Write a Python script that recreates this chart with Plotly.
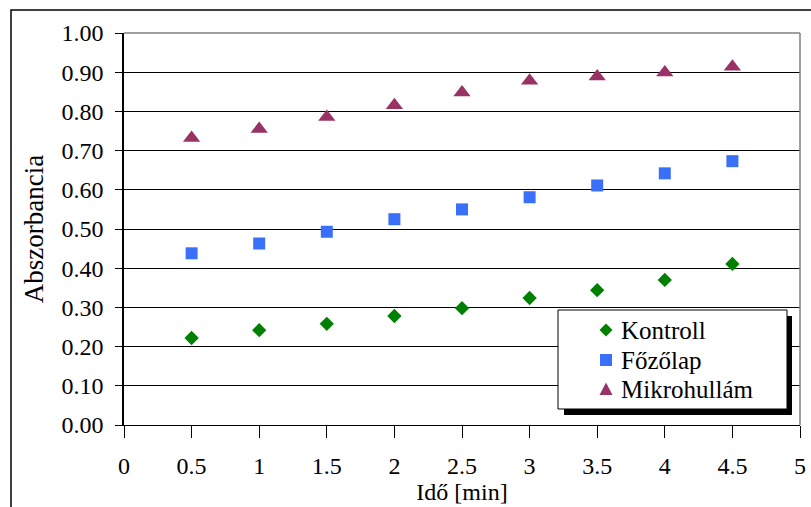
import plotly.graph_objects as go

# Measurement times (min)
ido = [0.5, 1.0, 1.5, 2.0, 2.5, 3.0, 3.5, 4.0, 4.5]

# Absorbance readings per heating method
kontroll = [0.222, 0.242, 0.258, 0.278, 0.298, 0.324, 0.344, 0.370, 0.411]
fozolap = [0.438, 0.463, 0.493, 0.525, 0.550, 0.581, 0.611, 0.642, 0.673]
mikrohullam = [0.732, 0.755, 0.786, 0.816, 0.848, 0.878, 0.889, 0.899, 0.914]

series_names = ["Kontroll", "Főzőlap", "Mikrohullám"]
series_values = [kontroll, fozolap, mikrohullam]

x_ticks = [0, 0.5, 1, 1.5, 2, 2.5, 3, 3.5, 4, 4.5, 5]
x_ticktext = ["0", "0.5", "1", "1.5", "2", "2.5", "3", "3.5", "4", "4.5", "5"]
y_ticks = [0.0, 0.1, 0.2, 0.3, 0.4, 0.5, 0.6, 0.7, 0.8, 0.9, 1.0]

FONT = "Liberation Serif"

# marker styles: plotly symbol, size, colour, and legend-key path (pixels, y up)
styles = [
    ("diamond", 11, "#008000", "M0,6.5 L6.5,0 L0,-6.5 L-6.5,0 Z"),
    ("square", 12, "#3A6FF7", "M-6,-6 L6,-6 L6,6 L-6,6 Z"),
    ("triangle-up", 15, "#993366", "M-6.5,-6 L6.5,-6 L0,6.5 Z"),
]

W, H = 811, 507
L, R, T, B = 124, 11, 33, 82
pw, ph = W - L - R, H - T - B


def px_x(px):
    return (px - L) / pw


def px_y(py):
    return (H - B - py) / ph


fig = go.Figure()
for name, vals, (sym, size, color, _) in zip(series_names, series_values, styles):
    fig.add_trace(go.Scatter(
        x=ido, y=vals, mode="markers", name=name, showlegend=False,
        marker=dict(symbol=sym, size=size, color=color, line=dict(width=0)),
    ))

shapes = [
    # outer chart frame
    dict(type="rect", xref="paper", yref="paper",
         x0=px_x(11), y0=px_y(530), x1=px_x(830), y1=px_y(10),
         line=dict(color="black", width=1.5), fillcolor="rgba(0,0,0,0)", layer="below"),
    # plot area border (top / right)
    dict(type="line", xref="paper", yref="paper", x0=0, x1=1, y0=1, y1=1,
         line=dict(color="#808080", width=1.5), layer="above"),
    dict(type="line", xref="paper", yref="paper", x0=1, x1=1, y0=0, y1=1,
         line=dict(color="#808080", width=1.5), layer="above"),
    # legend drop shadow and box
    dict(type="rect", xref="paper", yref="paper",
         x0=px_x(564), y0=px_y(415), x1=px_x(792), y1=px_y(316),
         line=dict(width=0), fillcolor="black", layer="above"),
    dict(type="rect", xref="paper", yref="paper",
         x0=px_x(558), y0=px_y(409), x1=px_x(787), y1=px_y(310),
         line=dict(color="black", width=1), fillcolor="white", layer="above"),
]

annotations = []
legend_rows = [330, 360, 389]
for name, (sym, size, color, path), row in zip(series_names, styles, legend_rows):
    shapes.append(dict(
        type="path", xref="paper", yref="paper",
        xsizemode="pixel", ysizemode="pixel",
        xanchor=px_x(606), yanchor=px_y(row),
        path=path, fillcolor=color, line=dict(width=0), layer="above",
    ))
    annotations.append(dict(
        xref="paper", yref="paper", x=px_x(619), y=px_y(row),
        xanchor="left", yanchor="middle", showarrow=False,
        text=name, font=dict(family=FONT, size=25, color="black"),
    ))

fig.update_layout(
    width=W, height=H,
    margin=dict(l=L, r=R, t=T, b=B, autoexpand=False),
    paper_bgcolor="white", plot_bgcolor="white",
    font=dict(family=FONT, color="black"),
    showlegend=False,
    shapes=shapes,
    annotations=annotations,
    xaxis=dict(
        range=[0, 5], tickvals=x_ticks, ticktext=x_ticktext,
        showgrid=False, zeroline=False, automargin=False,
        showline=True, linecolor="black", linewidth=1,
        ticks="outside", ticklen=12, tickcolor="black",
        ticklabelstandoff=7,
        tickfont=dict(family=FONT, size=24),
        title=dict(text="Idő [min]", font=dict(family=FONT, size=24), standoff=0),
    ),
    yaxis=dict(
        range=[0, 1], tickvals=y_ticks, tickformat=".2f",
        showgrid=True, gridcolor="black", gridwidth=1,
        zeroline=False, automargin=False,
        showline=True, linecolor="black", linewidth=1.5,
        ticks="outside", ticklen=7, tickcolor="black",
        ticklabelstandoff=7,
        tickfont=dict(family=FONT, size=24),
        title=dict(text="Abszorbancia", font=dict(family=FONT, size=27), standoff=10),
    ),
)

fig.write_html("out.html")
